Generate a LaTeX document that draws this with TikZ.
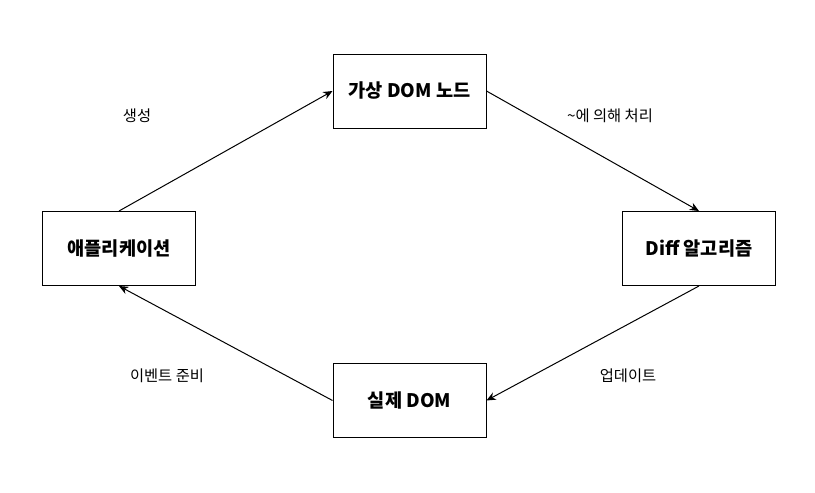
\documentclass[tikz,border=0pt]{standalone}
\usepackage{fontspec}
\setmainfont{Noto Sans CJK KR}
\usetikzlibrary{arrows.meta}

\begin{document}
\begin{tikzpicture}[x=0.75pt, y=-0.75pt, line width=0.75pt, >={Stealth[length=7pt, width=6pt]}]
    \useasboundingbox (0,0) rectangle (815,493);
    \draw
    node[rectangle, draw, minimum width=114.75pt, minimum height=55.5pt, font=\bfseries\fontsize{14}{16}\selectfont](vdom)at(409.5,91){가상 DOM 노드}
    node[rectangle, draw, minimum width=114.75pt, minimum height=55.5pt, font=\bfseries\fontsize{14}{16}\selectfont](app)at(119,248.5){애플리케이션}
    node[rectangle, draw, minimum width=114.75pt, minimum height=55.5pt, font=\bfseries\fontsize{14}{16}\selectfont](diff)at(699,248.5){Diff 알고리즘}
    node[rectangle, draw, minimum width=114.75pt, minimum height=55.5pt, font=\bfseries\fontsize{14}{16}\selectfont](real)at(409.5,400.5){실제 DOM}
    ;
    \draw[->] (app.north)--(vdom.west);
    \draw[->] (vdom.east)--(diff.north);
    \draw[->] (diff.south)--(real.east);
    \draw[->] (real.west)--(app.south);
    \draw
    node[font=\fontsize{11.5}{13}\selectfont](l1)at(137,116){생성}
    node[font=\fontsize{11.5}{13}\selectfont](l2)at(610,116){\textasciitilde 에 의해 처리}
    node[font=\fontsize{11.5}{13}\selectfont](l3)at(628,376){업데이트}
    node[font=\fontsize{11.5}{13}\selectfont](l4)at(167,376){이벤트 준비}
    ;
\end{tikzpicture}
\end{document}
